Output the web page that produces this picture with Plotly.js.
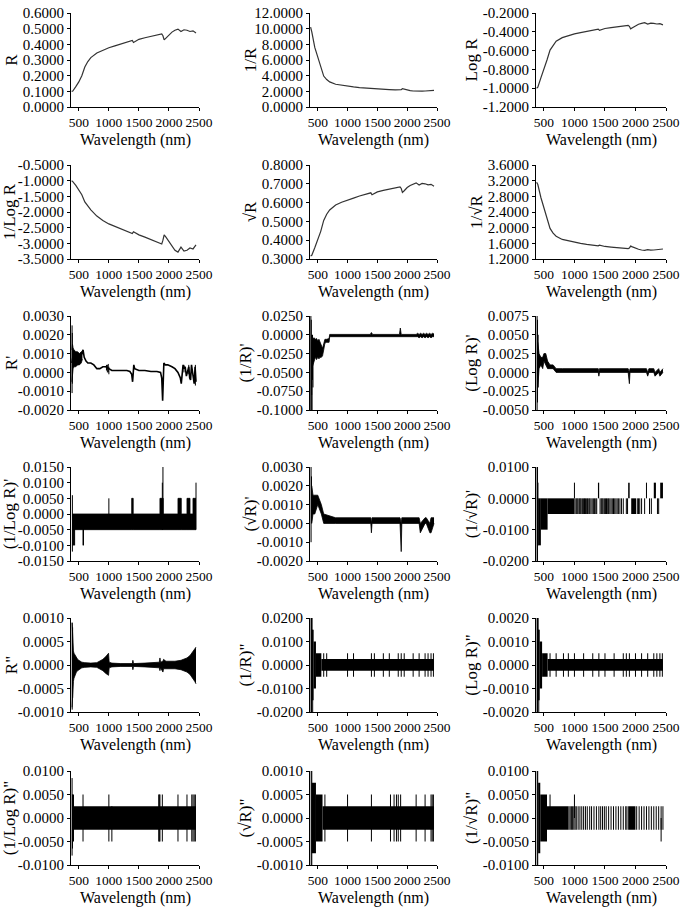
<!DOCTYPE html>
<html>
<head>
<meta charset="utf-8">
<script src="https://cdn.plot.ly/plotly-3.0.1.min.js"></script>
<style>
  body { margin: 0; background: #fff; }
  #chart { width: 685px; height: 912px; }
</style>
</head>
<body>
<div id="chart"></div>
<script>
// ---- smooth spectra (rows 1-2) ----
const wl = [380, 400, 450, 500, 550, 600, 650, 700, 800, 900, 1000, 1100, 1200, 1300, 1390, 1410, 1450, 1500, 1600, 1700, 1800, 1880, 1900, 1920, 1950, 2000, 2050, 2100, 2150, 2200, 2250, 2300, 2350, 2400, 2450];
const R = [0.100, 0.102, 0.130, 0.160, 0.200, 0.255, 0.290, 0.315, 0.345, 0.362, 0.378, 0.390, 0.403, 0.415, 0.425, 0.412, 0.420, 0.432, 0.442, 0.452, 0.460, 0.466, 0.455, 0.428, 0.440, 0.462, 0.478, 0.490, 0.497, 0.482, 0.493, 0.490, 0.482, 0.486, 0.472];
const invR = [10.2, 9.6, 7.6, 6.3, 5.0, 3.95, 3.5, 3.2, 2.9, 2.76, 2.64, 2.56, 2.48, 2.41, 2.36, 2.42, 2.38, 2.32, 2.27, 2.22, 2.18, 2.15, 2.2, 2.34, 2.27, 2.16, 2.09, 2.04, 2.01, 2.07, 2.03, 2.04, 2.07, 2.06, 2.12];
const logR = [-1.0, -0.99, -0.89, -0.80, -0.70, -0.595, -0.54, -0.50, -0.462, -0.441, -0.422, -0.409, -0.395, -0.382, -0.372, -0.385, -0.377, -0.365, -0.355, -0.345, -0.337, -0.332, -0.342, -0.368, -0.356, -0.335, -0.32, -0.31, -0.303, -0.318, -0.307, -0.31, -0.317, -0.313, -0.326];
const invLogR = [-1.0, -1.03, -1.15, -1.28, -1.45, -1.68, -1.82, -1.93, -2.13, -2.27, -2.38, -2.46, -2.54, -2.62, -2.69, -2.63, -2.68, -2.73, -2.80, -2.88, -2.96, -3.02, -2.90, -2.73, -2.80, -2.95, -3.10, -3.22, -3.28, -3.12, -3.25, -3.22, -3.15, -3.18, -3.05];
const sqrtR = [0.316, 0.32, 0.36, 0.40, 0.447, 0.505, 0.538, 0.561, 0.587, 0.602, 0.615, 0.624, 0.635, 0.644, 0.652, 0.642, 0.648, 0.657, 0.665, 0.672, 0.678, 0.683, 0.675, 0.654, 0.663, 0.680, 0.691, 0.700, 0.705, 0.694, 0.702, 0.700, 0.694, 0.697, 0.687];
const invSqrtR = [3.16, 3.10, 2.77, 2.50, 2.24, 1.98, 1.86, 1.78, 1.70, 1.66, 1.63, 1.60, 1.575, 1.55, 1.535, 1.555, 1.54, 1.52, 1.505, 1.49, 1.475, 1.465, 1.48, 1.53, 1.51, 1.47, 1.45, 1.43, 1.42, 1.44, 1.425, 1.43, 1.44, 1.435, 1.455];

// ---- first derivatives ----
const dR_x = [385, 400, 420, 450, 500, 540, 570, 590, 620, 650, 700, 750, 800, 850, 900, 950, 1000, 1050, 1100, 1200, 1300, 1350, 1380, 1395, 1405, 1415, 1430, 1500, 1600, 1700, 1800, 1860, 1880, 1895, 1905, 1915, 1940, 1980, 2050, 2100, 2150, 2190, 2205, 2220, 2235, 2250, 2270, 2290, 2310, 2330, 2345, 2360, 2375, 2390, 2405, 2420, 2435, 2450];
const dR_y = [0.0005, 0.0008, 0.0008, 0.0007, 0.0008, 0.0009, 0.0012, 0.0008, 0.0006, 0.0005, 0.0005, 0.0004, 0.0002, 0.0002, 0.0003, 0.0003, 0.0002, 0.0001, 0.0001, 0.0001, 0.0001, 0.00005, -0.0001, -0.0005, 0.0000, 0.0004, 0.0002, 0.0001, 0.0001, 0.00005, 0.00005, 0.0, -0.0003, -0.0015, -0.0005, 0.0005, 0.0004, 0.0004, 0.0003, 0.0002, 0.0, -0.0003, -0.0006, 0.0001, 0.0004, 0.0002, 0.0003, -0.0002, 0.0, 0.0003, -0.0003, -0.0004, 0.0004, 0.0, -0.0002, -0.0006, 0.0003, -0.0005];
const dR_envX = [385, 395, 405, 420, 450, 480, 510, 540, 560];
const dR_envHi = [0.0012, 0.0015, 0.0013, 0.0012, 0.0011, 0.0011, 0.0010, 0.0011, 0.0011];
const dR_envLo = [-0.0005, 0.0, 0.0002, 0.0003, 0.0003, 0.0004, 0.0004, 0.0005, 0.0007];
const dR_spX = [388, 392, 960, 975, 990, 1000, 2250, 2330, 2440];
const dR_spHi = [0.0025, 0.0021, 0.0004, 0.0004, 0.00045, 0.0003, 0.0004, 0.0004, 0.0004];
const dR_spLo = [-0.0011, -0.0006, 0.0001, 0.0, 0.0, -0.0001, 0.0, -0.0001, -0.0007];

const dInvR_envX = [400, 420, 440, 460, 480, 500, 520, 540, 560, 580, 600, 620, 650, 690, 700, 1380, 1400, 1420, 1870, 1885, 1900, 2150, 2175, 2200, 2225, 2250, 2275, 2300, 2325, 2350, 2375, 2400, 2425, 2450];
const dInvR_envHi = [-0.002, -0.005, -0.004, -0.006, -0.005, -0.008, -0.006, -0.01, -0.012, -0.018, -0.012, -0.006, -0.006, -0.005, 0.0005, 0.0005, 0.003, 0.0005, 0.0005, 0.009, 0.0005, 0.0005, 0.002, 0.0005, 0.002, 0.0005, 0.002, 0.0005, 0.002, 0.0005, 0.002, 0.0005, 0.002, 0.001];
const dInvR_envLo = [-0.045, -0.04, -0.035, -0.03, -0.033, -0.03, -0.032, -0.03, -0.03, -0.028, -0.02, -0.011, -0.01, -0.01, -0.0025, -0.0025, -0.0025, -0.0025, -0.0025, -0.0025, -0.0025, -0.0025, -0.0025, -0.004, -0.0025, -0.004, -0.0025, -0.004, -0.0025, -0.004, -0.0025, -0.004, -0.0025, -0.0025];
const dInvR_spX = [385, 392, 398, 405, 412, 420];
const dInvR_spHi = [0.025, 0.02, 0.0, -0.01, 0.0, -0.01];
const dInvR_spLo = [-0.1, -0.1, -0.08, -0.1, -0.06, -0.07];

const dLogR_envX = [400, 420, 450, 480, 500, 530, 560, 600, 650, 700, 800, 1390, 1400, 1410, 1880, 1900, 1910, 2180, 2200, 2220, 2300, 2320, 2380, 2400, 2450];
const dLogR_envHi = [0.004, 0.0025, 0.002, 0.002, 0.0025, 0.0025, 0.0015, 0.001, 0.001, 0.0005, 0.0005, 0.0005, 0.0, 0.0005, 0.0005, 0.0, 0.0005, 0.0005, 0.0, 0.0005, 0.0005, 0.0, 0.0005, 0.0, 0.0005];
const dLogR_envLo = [-0.002, 0.0005, 0.001, 0.0005, 0.0015, 0.001, 0.0005, 0.0005, 0.0005, 0.0, 0.0, 0.0, -0.0005, 0.0, 0.0, -0.0015, 0.0, 0.0, -0.0005, 0.0, 0.0, -0.0005, 0.0, -0.0005, 0.0];
const dLogR_spX = [388, 395, 405];
const dLogR_spHi = [0.0075, 0.007, 0.005];
const dLogR_spLo = [-0.005, -0.004, -0.002];

const dInvLogR_envX = [390, 1380, 1405, 1850, 1905, 2150, 2205, 2300, 2350, 2400, 2450];
const dInvLogR_envHi = [0, 0.005, 0, 0.005, 0, 0.005, 0, 0.005, 0, 0.005, 0.005];
const dInvLogR_envLo = [-0.005, -0.005, -0.005, -0.005, -0.005, -0.005, -0.005, -0.005, -0.005, -0.005, -0.005];
const dInvLogR_spX = [393, 400, 410, 420, 430, 570, 578, 1000, 1890, 1900, 2450];
const dInvLogR_spHi = [0.006, 0.0, 0.0, 0.0, 0.0, 0.0, 0.0, 0.005, 0.01, 0.015, 0.01];
const dInvLogR_spLo = [-0.012, -0.01, -0.01, -0.01, -0.01, -0.01, -0.01, 0.0, -0.005, -0.005, -0.005];

const dSqrtR_envX = [400, 420, 450, 500, 560, 600, 800, 1390, 1400, 1410, 1880, 1900, 1910, 2200, 2220, 2300, 2320, 2380, 2400, 2450];
const dSqrtR_envHi = [0.002, 0.0015, 0.0015, 0.0015, 0.001, 0.0005, 0.0003, 0.0003, 0.0, 0.0003, 0.0003, 0.0, 0.0003, 0.0003, 0.0, 0.0003, 0.0003, 0.0, 0.0003, 0.0003];
const dSqrtR_envLo = [0.0, 0.0005, 0.0005, 0.001, 0.0005, 0.0, 0.0, 0.0, -0.0005, 0.0, 0.0, -0.0015, 0.0, 0.0, -0.0005, 0.0, 0.0, -0.0005, -0.0005, 0.0];
const dSqrtR_spX = [388, 395];
const dSqrtR_spHi = [0.003, 0.0025];
const dSqrtR_spLo = [-0.001, 0.0];

const dInvSqrtR_blkX0 = [405, 450, 560, 1385, 1880, 1930, 2300, 2405];
const dInvSqrtR_blkX1 = [450, 560, 1000, 1405, 1905, 2010, 2335, 2450];
const dInvSqrtR_blkLo = [-0.015, -0.01, -0.005, 0, 0, -0.005, 0, 0];
const dInvSqrtR_blkHi = [0, 0, 0, 0.005, 0.005, 0, 0.005, 0.005];
const dInvSqrtR_stX = [1010, 1030, 1045, 1060, 1080, 1095, 1110, 1130, 1150, 1165, 1180, 1200, 1215, 1235, 1250, 1270, 1290, 1310, 1330, 1350, 1365, 1420, 1440, 1455, 1470, 1490, 1510, 1525, 1545, 1560, 1580, 1600, 1620, 1640, 1660, 1680, 1700, 1720, 1745, 1770, 1800, 1850, 1870, 2030, 2050, 2070, 2100, 2150, 2230, 2260, 2360, 2380];
const dInvSqrtR_spX = [388, 395, 402, 1000, 2180];
const dInvSqrtR_spHi = [0.01, 0.01, 0.005, 0.005, 0.005];
const dInvSqrtR_spLo = [-0.02, -0.02, -0.015, 0, 0];

// ---- second derivatives ----
const ddR_envX = [388, 395, 402, 410, 420, 440, 460, 480, 500, 520, 550, 600, 700, 800, 850, 900, 950, 975, 995, 1005, 1050, 1200, 1390, 1400, 1410, 1600, 1800, 1840, 1850, 1860, 1900, 1910, 1950, 2100, 2200, 2300, 2350, 2400, 2430, 2450];
const ddR_envHi = [0.0009, 0.0006, 0.0004, 0.0003, 0.00025, 0.0002, 0.00015, 0.00012, 0.0001, 0.00008, 0.00006, 0.00005, 0.00004, 0.00005, 0.00008, 0.00012, 0.00018, 0.00022, 0.00025, 0.00006, 0.00004, 0.00003, 0.00003, 0.0001, 0.00003, 0.00004, 0.00005, 0.00006, 0.00015, 0.00006, 0.00008, 0.00012, 0.00008, 0.00008, 0.0001, 0.00015, 0.0002, 0.00028, 0.00035, 0.00038];
const ddR_envLo = [-0.0009, -0.0006, -0.00045, -0.00035, -0.00028, -0.0002, -0.00015, -0.00012, -0.0001, -0.00008, -0.00006, -0.00005, -0.00004, -0.00005, -0.00008, -0.00012, -0.00018, -0.0002, -0.00022, -0.00006, -0.00004, -0.00003, -0.00003, -0.0001, -0.00003, -0.00004, -0.00005, -0.00006, -0.00012, -0.00006, -0.00015, -0.00008, -0.00008, -0.00008, -0.0001, -0.00015, -0.0002, -0.00028, -0.00035, -0.0004];
const ddR_spX = [390, 397];
const ddR_spHi = [0.0009, 0.0008];
const ddR_spLo = [-0.00095, -0.0007];

const ddInvR_blkX0 = [400, 430, 470, 560];
const ddInvR_blkX1 = [430, 470, 560, 2450];
const ddInvR_blkHi = [0.015, 0.01, 0.005, 0.0025];
const ddInvR_blkLo = [-0.015, -0.01, -0.005, -0.0025];
const ddInvR_spX = [388, 395, 405, 415];
const ddInvR_spHi = [0.02, 0.02, 0.02, 0.015];
const ddInvR_spLo = [-0.02, -0.02, -0.015, -0.02];
const ddInvR_stX = [600, 650, 1000, 1100, 1400, 1450, 1600, 1700, 1850, 1900, 1950, 2100, 2200, 2300, 2350, 2400, 2440];

const ddLogR_blkX0 = [400, 430, 470, 560];
const ddLogR_blkX1 = [430, 470, 560, 2450];
const ddLogR_blkHi = [0.0015, 0.001, 0.0005, 0.00025];
const ddLogR_blkLo = [-0.0015, -0.001, -0.0005, -0.00025];
const ddLogR_spX = [388, 395, 405, 415];
const ddLogR_spHi = [0.002, 0.002, 0.002, 0.0015];
const ddLogR_spLo = [-0.002, -0.002, -0.0015, -0.002];
const ddLogR_stX = [600, 700, 820, 900, 1000, 1150, 1300, 1400, 1500, 1650, 1800, 1850, 1900, 2000, 2100, 2200, 2300, 2350, 2400, 2440];

const ddInvLogR_blkX0 = [400, 390];
const ddInvLogR_blkX1 = [2450, 420];
const ddInvLogR_blkHi = [0.0025, 0.005];
const ddInvLogR_blkLo = [-0.0025, -0.005];
const ddInvLogR_spX = [388, 395, 570, 1000, 1050, 1830, 1840, 1850, 1890, 2150, 2300, 2380, 2400, 2420, 2440];
const ddInvLogR_spHi = [0.0085, 0.005, 0.005, 0.005, 0.0025, 0.005, 0.005, 0.005, 0.005, 0.005, 0.005, 0.005, 0.005, 0.005, 0.005];
const ddInvLogR_spLo = [-0.008, -0.0065, -0.005, -0.005, -0.005, -0.005, -0.005, -0.005, -0.005, -0.005, -0.005, -0.005, -0.005, -0.005, -0.005];

const ddSqrtR_blkX0 = [395, 470, 580];
const ddSqrtR_blkX1 = [470, 580, 2450];
const ddSqrtR_blkHi = [0.00075, 0.0005, 0.00025];
const ddSqrtR_blkLo = [-0.00075, -0.0005, -0.00025];
const ddSqrtR_spX = [390, 400];
const ddSqrtR_spHi = [0.001, 0.001];
const ddSqrtR_spLo = [-0.001, -0.001];
const ddSqrtR_stX = [620, 1000, 1400, 1720, 1780, 1820, 1850, 1890, 2150, 2300, 2400, 2420, 2440];

const ddInvSqrtR_blkX0 = [405, 440, 550, 1880];
const ddInvSqrtR_blkX1 = [440, 550, 900, 2000];
const ddInvSqrtR_blkHi = [0.0075, 0.005, 0.0025, 0.0025];
const ddInvSqrtR_blkLo = [-0.0075, -0.005, -0.0025, -0.0025];
const ddInvSqrtR_stX = [910, 930, 950, 970, 990, 1010, 1030, 1060, 1090, 1120, 1150, 1180, 1210, 1250, 1280, 1320, 1360, 1400, 1430, 1460, 1490, 1520, 1560, 1600, 1640, 1680, 1720, 1760, 1800, 1840, 1860, 2020, 2060, 2100, 2140, 2180, 2220, 2260, 2300, 2340, 2380, 2420, 2450];
const ddInvSqrtR_spX = [390, 398, 600, 1000, 2420];
const ddInvSqrtR_spHi = [0.01, 0.01, 0.005, 0.005, 0.0];
const ddInvSqrtR_spLo = [-0.01, -0.01, 0.0, 0.0, -0.005];

// ---- axis ticks ----
const xTicks = [500, 1000, 1500, 2000, 2500];
const xTitle = 'Wavelength (nm)';
const tR = [0, 0.1, 0.2, 0.3, 0.4, 0.5, 0.6];
const tInvR = [0, 2, 4, 6, 8, 10, 12];
const tLogR = [-1.2, -1.0, -0.8, -0.6, -0.4, -0.2];
const tInvLogR = [-3.5, -3.0, -2.5, -2.0, -1.5, -1.0, -0.5];
const tSqrtR = [0.3, 0.4, 0.5, 0.6, 0.7, 0.8];
const tInvSqrtR = [1.2, 1.6, 2.0, 2.4, 2.8, 3.2, 3.6];
const tdR = [-0.002, -0.001, 0, 0.001, 0.002, 0.003];
const tdInvR = [-0.1, -0.075, -0.05, -0.025, 0, 0.025];
const tdLogR = [-0.005, -0.0025, 0, 0.0025, 0.005, 0.0075];
const tdInvLogR = [-0.015, -0.01, -0.005, 0, 0.005, 0.01, 0.015];
const tdSqrtR = [-0.002, -0.001, 0, 0.001, 0.002, 0.003];
const tdInvSqrtR = [-0.02, -0.01, 0, 0.01];
const tddR = [-0.001, -0.0005, 0, 0.0005, 0.001];
const tddInvR = [-0.02, -0.01, 0, 0.01, 0.02];
const tddLogR = [-0.002, -0.001, 0, 0.001, 0.002];
const tddInvLogR = [-0.01, -0.005, 0, 0.005, 0.01];
const tddSqrtR = [-0.001, -0.0005, 0, 0.0005, 0.001];
const tddInvSqrtR = [-0.01, -0.005, 0, 0.005, 0.01];

const panels = [
  { name: 'R', ticks: tR, line: [wl, R] },
  { name: '1/R', ticks: tInvR, line: [wl, invR] },
  { name: 'Log R', ticks: tLogR, line: [wl, logR] },
  { name: '1/Log R', ticks: tInvLogR, line: [wl, invLogR] },
  { name: '\u221AR', ticks: tSqrtR, line: [wl, sqrtR] },
  { name: '1/\u221AR', ticks: tInvSqrtR, line: [wl, invSqrtR] },
  { name: "R'", ticks: tdR, line: [dR_x, dR_y], env: [dR_envX, dR_envHi, dR_envLo], spikes: [dR_spX, dR_spHi, dR_spLo] },
  { name: "(1/R)'", ticks: tdInvR, env: [dInvR_envX, dInvR_envHi, dInvR_envLo], spikes: [dInvR_spX, dInvR_spHi, dInvR_spLo] },
  { name: "(Log R)'", ticks: tdLogR, env: [dLogR_envX, dLogR_envHi, dLogR_envLo], spikes: [dLogR_spX, dLogR_spHi, dLogR_spLo] },
  { name: "(1/Log R)'", ticks: tdInvLogR, env: [dInvLogR_envX, dInvLogR_envHi, dInvLogR_envLo], envShape: 'hv', spikes: [dInvLogR_spX, dInvLogR_spHi, dInvLogR_spLo] },
  { name: "(\u221AR)'", ticks: tdSqrtR, env: [dSqrtR_envX, dSqrtR_envHi, dSqrtR_envLo], spikes: [dSqrtR_spX, dSqrtR_spHi, dSqrtR_spLo] },
  { name: "(1/\u221AR)'", ticks: tdInvSqrtR, blocks: [dInvSqrtR_blkX0, dInvSqrtR_blkX1, dInvSqrtR_blkHi, dInvSqrtR_blkLo], stripes: [dInvSqrtR_stX, 0, -0.005], spikes: [dInvSqrtR_spX, dInvSqrtR_spHi, dInvSqrtR_spLo] },
  { name: 'R"', ticks: tddR, env: [ddR_envX, ddR_envHi, ddR_envLo], spikes: [ddR_spX, ddR_spHi, ddR_spLo] },
  { name: '(1/R)"', ticks: tddInvR, blocks: [ddInvR_blkX0, ddInvR_blkX1, ddInvR_blkHi, ddInvR_blkLo], stripes: [ddInvR_stX, 0.005, -0.005], spikes: [ddInvR_spX, ddInvR_spHi, ddInvR_spLo] },
  { name: '(Log R)"', ticks: tddLogR, blocks: [ddLogR_blkX0, ddLogR_blkX1, ddLogR_blkHi, ddLogR_blkLo], stripes: [ddLogR_stX, 0.0005, -0.0005], spikes: [ddLogR_spX, ddLogR_spHi, ddLogR_spLo] },
  { name: '(1/Log R)"', ticks: tddInvLogR, blocks: [ddInvLogR_blkX0, ddInvLogR_blkX1, ddInvLogR_blkHi, ddInvLogR_blkLo], spikes: [ddInvLogR_spX, ddInvLogR_spHi, ddInvLogR_spLo] },
  { name: '(\u221AR)"', ticks: tddSqrtR, blocks: [ddSqrtR_blkX0, ddSqrtR_blkX1, ddSqrtR_blkHi, ddSqrtR_blkLo], stripes: [ddSqrtR_stX, 0.0005, -0.0005], spikes: [ddSqrtR_spX, ddSqrtR_spHi, ddSqrtR_spLo] },
  { name: '(1/\u221AR)"', ticks: tddInvSqrtR, blocks: [ddInvSqrtR_blkX0, ddInvSqrtR_blkX1, ddInvSqrtR_blkHi, ddInvSqrtR_blkLo], stripes: [ddInvSqrtR_stX, 0.0025, -0.0025], spikes: [ddInvSqrtR_spX, ddInvSqrtR_spHi, ddInvSqrtR_spLo] },
];

// ---- layout geometry (pixels in a 685x912 page) ----
const W = 685, H = 912;
const colEdges = [[71, 199], [310, 437], [536, 666]];
const rowTops = [13, 165, 316, 467, 618, 771];
const plotH = 94;
const xTitleDrop = 33;   // px from x axis line to centre of "Wavelength (nm)"
const font = '"Liberation Serif", serif';

const data = [];
const layout = {
  width: W, height: H,
  margin: { l: 0, r: 0, t: 0, b: 0 },
  paper_bgcolor: '#fff', plot_bgcolor: '#fff',
  showlegend: false,
  barmode: 'overlay',
  font: { family: font, color: '#000' },
  annotations: [],
};

// vertical segments joined with gaps
function segments(xs, his, los) {
  const x = [], y = [];
  xs.forEach((v, i) => {
    const hi = Array.isArray(his) ? his[i] : his;
    const lo = Array.isArray(los) ? los[i] : los;
    x.push(v, v, null);
    y.push(lo, hi, null);
  });
  return { x, y };
}

panels.forEach((p, i) => {
  const n = i === 0 ? '' : String(i + 1);
  const xa = 'x' + n, ya = 'y' + n;
  const col = i % 3, row = Math.floor(i / 3);
  const [l, r] = colEdges[col];
  const t = rowTops[row];

  if (p.env) {
    const [ex, eh, el] = p.env;
    const shape = p.envShape || 'linear';
    data.push({ x: ex, y: eh, xaxis: xa, yaxis: ya, mode: 'lines', line: { color: '#000', width: 0.8, shape } });
    data.push({ x: ex, y: el, xaxis: xa, yaxis: ya, mode: 'lines', fill: 'tonexty', fillcolor: '#000', line: { color: '#000', width: 0.8, shape } });
  }
  if (p.blocks) {
    const [x0, x1, hi, lo] = p.blocks;
    data.push({
      type: 'bar', xaxis: xa, yaxis: ya,
      x: x0.map((v, k) => (v + x1[k]) / 2),
      width: x0.map((v, k) => x1[k] - v),
      base: lo,
      y: hi.map((v, k) => v - lo[k]),
      marker: { color: '#000', line: { width: 0 } },
    });
  }
  if (p.stripes) {
    const s = segments(p.stripes[0], p.stripes[1], p.stripes[2]);
    data.push({ x: s.x, y: s.y, xaxis: xa, yaxis: ya, mode: 'lines', line: { color: '#000', width: 1 } });
  }
  if (p.spikes) {
    const s = segments(p.spikes[0], p.spikes[1], p.spikes[2]);
    data.push({ x: s.x, y: s.y, xaxis: xa, yaxis: ya, mode: 'lines', line: { color: '#000', width: 1 } });
  }
  if (p.line) {
    const thick = p.env ? 1.6 : 1.2;
    data.push({ x: p.line[0], y: p.line[1], xaxis: xa, yaxis: ya, mode: 'lines', line: { color: p.env ? '#000' : '#333', width: thick } });
  }

  layout['xaxis' + n] = {
    domain: [l / W, r / W],
    anchor: ya,
    range: [370, 2500],
    tickvals: xTicks,
    ticktext: xTicks.map(String),
    tickangle: 0,
    ticks: 'outside', ticklen: 3, tickcolor: '#000',
    showline: true, linecolor: '#000', linewidth: 1,
    showgrid: false, zeroline: false,
    tickfont: { family: font, size: 13.5, color: '#000' },
  };
  layout['yaxis' + n] = {
    domain: [1 - (t + plotH) / H, 1 - t / H],
    anchor: xa,
    range: [p.ticks[0], p.ticks[p.ticks.length - 1]],
    tickvals: p.ticks,
    ticktext: p.ticks.map(v => v.toFixed(4)),
    ticks: 'outside', ticklen: 3, tickcolor: '#000',
    showline: true, linecolor: '#000', linewidth: 1,
    showgrid: false, zeroline: false,
    tickfont: { family: font, size: 15, color: '#000' },
    title: { text: p.name, font: { family: font, size: 17, color: '#000' } },
  };
  layout.annotations.push({
    xref: 'paper', yref: 'paper',
    x: (l + r) / 2 / W, y: 1 - (t + plotH + xTitleDrop) / H,
    xanchor: 'center', yanchor: 'middle',
    text: xTitle, showarrow: false,
    font: { family: font, size: 16, color: '#000' },
  });
});

Plotly.newPlot('chart', data, layout, { displayModeBar: false, staticPlot: true });
</script>
</body>
</html>
